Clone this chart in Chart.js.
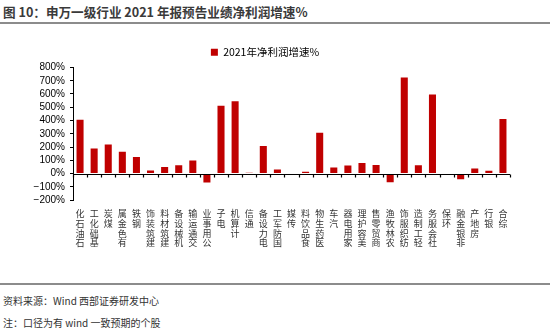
<!DOCTYPE html>
<html>
<head>
<meta charset="utf-8">
<script src="https://cdn.jsdelivr.net/npm/chart.js@4/dist/chart.umd.min.js"></script>
<style>
  body { margin: 0; width: 550px; height: 329px; background: #fff; position: relative; overflow: hidden;
         font-family: "Noto Sans CJK SC", sans-serif; }
  .title { position: absolute; left: 3px; top: 2px; font-size: 12.6px; font-weight: bold; color: #3a3a3a; white-space: nowrap; }
  .rule { position: absolute; left: 0; width: 550px; height: 2px; background: #8c8c8c; }
  .note { position: absolute; left: 3px; font-size: 10px; color: #333; white-space: nowrap; }
  #chart { position: absolute; left: 0; top: 30px; }
</style>
</head>
<body>
<div class="title">图 10：申万一级行业 2021 年报预告业绩净利润增速%</div>
<div class="rule" style="top:22px"></div>
<canvas id="chart" width="550" height="250"></canvas>
<div class="rule" style="top:283px"></div>
<div class="note" style="top:293px">资料来源：Wind 西部证券研发中心</div>
<div class="note" style="top:315px">注：口径为有 wind 一致预期的个股</div>

<script>
// 申万一级行业
const categories = [
  "石油石化", "基础化工", "煤炭", "有色金属", "钢铁", "建筑装饰", "建筑材料", "机械设备",
  "交通运输", "公用事业", "电子", "计算机", "通信", "电力设备", "国防军工", "传媒",
  "食品饮料", "医药生物", "汽车", "家用电器", "美容护理", "商贸零售", "农林牧渔", "纺织服饰",
  "轻工制造", "社会服务", "环保", "非银金融", "房地产", "银行", "综合"
];

// 2021年净利润增速 (%)
const growth = [
  405, 188, 218, 165, 125, 22, 50, 62,
  98, -68, 511, 546, 5, 208, 30, 4,
  14, 308, 45, 60, 80, 65, -66, 724,
  63, 596, 0, -44, 37, 20, 411
];

const seriesName = "2021年净利润增速%";
const yTicks = [-200, -100, 0, 100, 200, 300, 400, 500, 600, 700, 800];

// 0轴：横线 + 类别分隔刻度
const zeroLine = {
  id: "zeroLine",
  afterDatasetsDraw(chart) {
    const { ctx, chartArea, scales: { x, y } } = chart;
    const y0 = Math.round(y.getPixelForValue(0)) + 0.5;
    ctx.save();
    ctx.strokeStyle = "#000";
    ctx.lineWidth = 1.2;
    ctx.beginPath();
    ctx.moveTo(chartArea.left, y0);
    ctx.lineTo(chartArea.right, y0);
    for (let i = 0; i <= categories.length; i++) {
      const px = Math.round(x.getPixelForValue(i - 0.5)) + 0.5;
      ctx.moveTo(px, y0);
      ctx.lineTo(px, y0 + 3);
    }
    ctx.stroke();
    ctx.restore();
  }
};

new Chart(document.getElementById("chart"), {
  type: "bar",
  data: {
    labels: categories,
    datasets: [{
      label: seriesName,
      data: growth,
      backgroundColor: "#c00000",
      borderWidth: 0,
      categoryPercentage: 1,
      barPercentage: 0.5
    }]
  },
  options: {
    responsive: false,
    animation: false,
    layout: { padding: { left: 20, right: 40, top: 9, bottom: 0 } },
    plugins: {
      tooltip: { enabled: false },
      legend: {
        position: "top",
        labels: {
          boxWidth: 7,
          boxHeight: 7,
          padding: 8,
          color: "#000",
          font: { family: "Noto Sans CJK SC", size: 10.5 }
        }
      }
    },
    scales: {
      x: {
        grid: { display: false, drawTicks: false },
        border: { display: false },
        afterFit: s => { s.height = 80; },
        ticks: {
          autoSkip: false,
          maxRotation: 0,
          minRotation: 0,
          padding: 9,
          color: "#333",
          font: { family: "Noto Sans CJK SC", size: 9, lineHeight: 1.08 },
          // 竖排文字，自下而上
          callback: (v, i) => categories[i].split("").reverse()
        }
      },
      y: {
        min: -200,
        max: 800,
        afterFit: s => { s.width = 53; },
        afterBuildTicks: s => { s.ticks = yTicks.map(v => ({ value: v })); },
        grid: { drawOnChartArea: false, drawTicks: true, tickLength: 3, color: "#000" },
        border: { display: true, color: "#000", width: 1 },
        ticks: {
          autoSkip: false,
          padding: 5,
          color: "#000",
          font: { family: "Liberation Sans", size: 10 },
          callback: v => String(v).replace("-", "−") + "%"
        }
      }
    }
  },
  plugins: [zeroLine]
});
</script>
</body>
</html>
